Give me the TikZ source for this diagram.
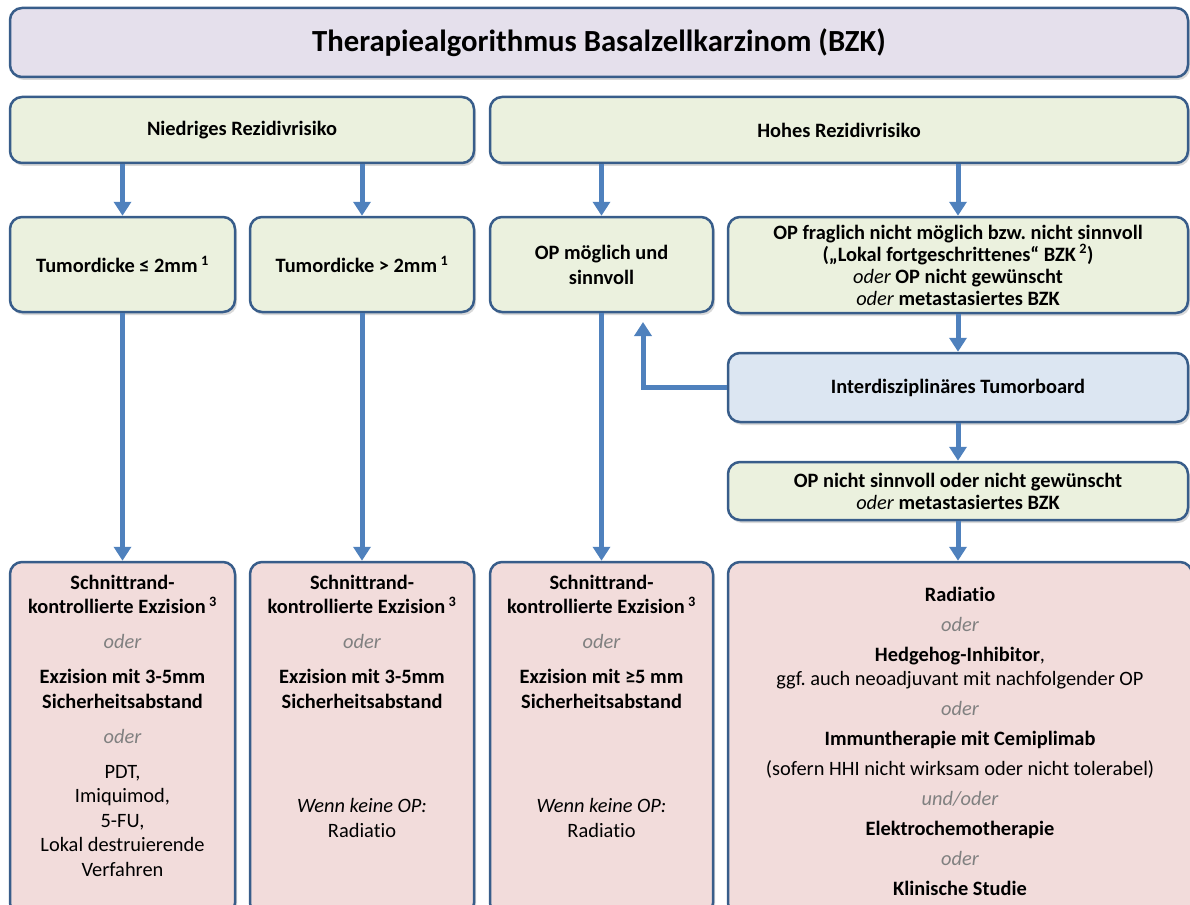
\documentclass[tikz,border=0pt]{standalone}
\usepackage{fontspec}
\setmainfont{Carlito}[Ligatures=NoCommon]
\usetikzlibrary{positioning,arrows.meta,shadows}

\definecolor{frame}{RGB}{56,93,138}
\definecolor{flowblue}{RGB}{79,129,189}
\definecolor{lilac}{RGB}{229,224,236}
\definecolor{sage}{RGB}{235,241,222}
\definecolor{skyfill}{RGB}{220,230,242}
\definecolor{rosefill}{RGB}{242,220,219}
\newcommand{\orword}[1]{{\color{gray}\itshape\mdseries #1}}
\newcommand{\ital}[1]{{\itshape\mdseries #1}}
\frenchspacing

\tikzset{
  box/.style={draw=frame, line width=2.5pt, rounded corners=12pt, align=center,
    drop shadow={opacity=0.3, shadow xshift=2pt, shadow yshift=-3pt},
    font=\bfseries\fontsize{20.4}{22}\selectfont},
  greenbox/.style={box, fill=sage},
  rosebox/.style={box, fill=rosefill},
  content/.style={inner sep=0pt, outer sep=0pt, align=center, font=\fontsize{20.4}{24.5}\selectfont},
  flow/.style={draw=flowblue, line width=5pt, -{Triangle[width=17pt,length=14pt]}},
}

\begin{document}
\begin{tikzpicture}[x=1pt,y=-1pt]
  \useasboundingbox (0,0) rectangle (1190,904);
  \clip (0,0) rectangle (1190,904);

  % header
  \node[box, fill=lilac, minimum width=1178, minimum height=69, font=\bfseries\fontsize{30.7}{32}\selectfont]
    (title) at (599,42.5) {Therapiealgorithmus Basalzellkarzinom (BZK)};

  % risk groups
  \node[greenbox, minimum width=464, minimum height=66] (niedrig) at (242,130) {Niedriges Rezidivrisiko};
  \node[greenbox, minimum width=698, minimum height=66] (hoch) at (839,130) {Hohes Rezidivrisiko};

  % second row
  \node[greenbox, minimum width=225, minimum height=95] (duenn) at (122.5,264.5) {Tumordicke ≤ 2mm\,\textsuperscript{1}};
  \node[greenbox, minimum width=224, minimum height=95] (dick) at (362,264.5) {Tumordicke > 2mm\,\textsuperscript{1}};
  \node[greenbox, minimum width=223, minimum height=95] (opja) at (601.5,264.5) {OP möglich und\\[3pt]sinnvoll};
  \node[greenbox, minimum width=460, minimum height=96] (opfrag) at (958,265)
    {OP fraglich nicht möglich bzw. nicht sinnvoll\\(„Lokal fortgeschrittenes“ BZK\,\textsuperscript{2})\\
     \ital{oder} OP nicht gewünscht\\\ital{oder} metastasiertes BZK};

  \node[box, fill=skyfill, minimum width=460, minimum height=69] (board) at (958,387.5) {Interdisziplinäres Tumorboard};
  \node[greenbox, minimum width=460, minimum height=58] (opnein) at (958,491)
    {OP nicht sinnvoll oder nicht gewünscht\\\ital{oder} metastasiertes BZK};

  % therapies
  \node[rosebox, minimum width=225, minimum height=353] (b1) at (122.5,738.5) {};
  \node[rosebox, minimum width=224, minimum height=353] (b2) at (362,738.5) {};
  \node[rosebox, minimum width=223, minimum height=353] (b3) at (601.5,738.5) {};
  \node[rosebox, minimum width=464, minimum height=353] (b4) at (960,738.5) {};

  \node[content, below=14pt of b1.north] (t1) {\textbf{Schnittrand-}\\
    \textbf{kontrollierte Exzision\,\textsuperscript{3}}\\[10.5pt]
    \orword{oder}\\[10.5pt]
    \textbf{Exzision mit 3-5mm}\\\textbf{Sicherheitsabstand}\\[10.5pt]
    \orword{oder}\\[10.5pt]
    PDT,\\Imiquimod,\\5-FU,\\Lokal destruierende\\Verfahren};
  \node[content, below=14pt of b2.north] (t2) {\textbf{Schnittrand-}\\
    \textbf{kontrollierte Exzision\,\textsuperscript{3}}\\[10.5pt]
    \orword{oder}\\[10.5pt]
    \textbf{Exzision mit 3-5mm}\\\textbf{Sicherheitsabstand}\\[80pt]
    \textit{Wenn keine OP:}\\Radiatio};
  \node[content, below=14pt of b3.north] (t3) {\textbf{Schnittrand-}\\
    \textbf{kontrollierte Exzision\,\textsuperscript{3}}\\[10.5pt]
    \orword{oder}\\[10.5pt]
    \textbf{Exzision mit ≥5 mm}\\\textbf{Sicherheitsabstand}\\[80pt]
    \textit{Wenn keine OP:}\\Radiatio};
  \node[content, below=26pt of b4.north] (t4) {\textbf{Radiatio}\\[5.5pt]
    \orword{oder}\\[5.5pt]
    \textbf{Hedgehog-Inhibitor},\\ggf. auch neoadjuvant mit nachfolgender OP\\[5.5pt]
    \orword{oder}\\[5.5pt]
    \textbf{Immuntherapie mit Cemiplimab}\\[5.5pt]
    (sofern HHI nicht wirksam oder nicht tolerabel)\\[5.5pt]
    \orword{und/oder}\\[5.5pt]
    \textbf{Elektrochemotherapie}\\[5.5pt]
    \orword{oder}\\[5.5pt]
    \textbf{Klinische Studie}};

  % arrows
  \foreach \src/\dst in {niedrig/duenn, niedrig/dick, hoch/opja, hoch/opfrag}
    \draw[flow] (\dst.north |- \src.south) -- (\dst.north);
  \foreach \src/\dst in {duenn/b1, dick/b2, opja/b3, opfrag/board, board/opnein}
    \draw[flow] (\src.south) -- (\dst.north);
  \draw[flow] (opnein.south) -- (opnein.south |- b4.north);
  \coordinate (back) at (643,322);
  \draw[flow] (board.west) -| (back);
\end{tikzpicture}
\end{document}
